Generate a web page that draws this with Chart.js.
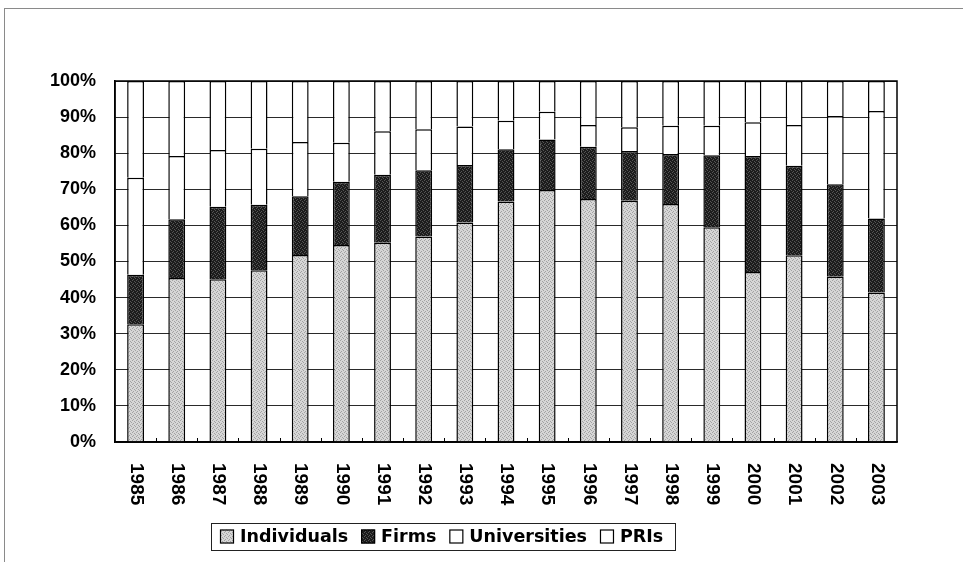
<!DOCTYPE html>
<html><head><meta charset="utf-8">
<script src="https://cdn.jsdelivr.net/npm/chart.js@4.4.0/dist/chart.umd.min.js"></script>
<style>
html,body{margin:0;padding:0;background:#fff;}
#wrap{position:relative;width:963px;height:562px;overflow:hidden;background:#fff;}
#frame{position:absolute;left:4px;top:8px;width:990px;height:600px;border-left:1px solid #8a8a8a;border-top:1px solid #8a8a8a;}
canvas{position:absolute;left:0;top:0;}
</style></head><body>
<div id="wrap"><div id="frame"></div><canvas id="c" width="963" height="562"></canvas></div>
<script>
const categories = ['1985','1986','1987','1988','1989','1990','1991','1992','1993','1994','1995','1996','1997','1998','1999','2000','2001','2002','2003'];
const seriesNames = ['Individuals','Firms','Universities','PRIs'];
const individuals  = [32.6,45.4,45.1,47.6,51.8,54.6,55.2,56.9,60.8,66.6,69.8,67.3,66.8,65.9,59.5,47.1,51.7,45.8,41.4];
const firms        = [13.7,16.3,20.1,18.1,16.3,17.5,18.8,18.4,15.9,14.5,14.0,14.5,13.8,13.9,19.9,32.1,24.8,25.6,20.5];
const universities = [26.9,17.5,15.7,15.5,15.0,10.8,12.1,11.3,10.7,7.9,7.7,6.0,6.6,7.8,8.2,9.4,11.3,18.9,29.8];
const pris         = [26.8,20.8,19.1,18.8,16.9,17.1,13.9,13.4,12.6,11.0,8.5,12.2,12.8,12.4,12.4,11.4,12.2,9.7,8.3];
const yMax = 100, yStep = 10;

function makePattern(base, dot){
  const p = document.createElement('canvas'); p.width = 4; p.height = 4;
  const g = p.getContext('2d');
  g.fillStyle = base; g.fillRect(0,0,4,4);
  g.fillStyle = dot;
  [[0,0],[2,1],[1,3],[3,2]].forEach(([a,b])=>g.fillRect(a,b,1,1));
  return document.getElementById('c').getContext('2d').createPattern(p,'repeat');
}
const fills = [makePattern('#d6d6d6','#a2a2a2'), makePattern('#1c1c1c','#555555'), '#ffffff', '#ffffff'];
const seriesData = [individuals, firms, universities, pris];

const decor = {
  id:'decor',
  afterDatasetsDraw(chart){
    const ctx = chart.ctx, a = chart.chartArea, xs = chart.scales.x;
    ctx.save();
    ctx.strokeStyle = '#000'; ctx.lineWidth = 1.5;
    ctx.strokeRect(a.left, a.top, a.right-a.left, a.bottom-a.top);
    const n = categories.length, step = (a.right-a.left)/n;
    ctx.lineWidth = 1;
    for(let i=1;i<n;i++){
      const x = Math.round(xs.getPixelForValue(i) - step/2)+0.5;
      ctx.beginPath(); ctx.moveTo(x, a.bottom); ctx.lineTo(x, a.bottom-4); ctx.stroke();
    }
    ctx.restore();
  },
  afterDraw(chart){
    const ctx = chart.ctx, a = chart.chartArea, xs = chart.scales.x;
    ctx.save();
    ctx.fillStyle = '#000';
    ctx.font = 'bold 19px "Liberation Sans", Arial, sans-serif';
    ctx.textAlign = 'left'; ctx.textBaseline = 'middle';
    categories.forEach((c,i)=>{
      const x = xs.getPixelForValue(i);
      ctx.save(); ctx.translate(x+0.5, a.bottom+21); ctx.rotate(Math.PI/2);
      ctx.fillText(c, 0, 0); ctx.restore();
    });
    // legend
    ctx.font = 'bold 17.5px "DejaVu Sans", sans-serif';
    const bx = 211, by = 523, bh = 27, box = 14, gapT = 6, gapI = 13;
    let x = 220;
    const cy = by + bh/2;
    seriesNames.forEach((name,i)=>{
      ctx.fillStyle = fills[i];
      ctx.fillRect(x, cy-box/2, box, box);
      ctx.strokeStyle = '#000'; ctx.lineWidth = 1.2;
      ctx.strokeRect(x+0.5, cy-box/2+0.5, box-1, box-1);
      ctx.fillStyle = '#000';
      ctx.fillText(name, x+box+gapT, cy+1);
      x += box + gapT + ctx.measureText(name).width + gapI;
    });
    ctx.strokeStyle = '#222'; ctx.lineWidth = 1;
    ctx.strokeRect(bx+0.5, by+0.5, Math.max(464, (x - gapI + 8) - bx), bh);
    ctx.restore();
  }
};

new Chart(document.getElementById('c'), {
  type:'bar',
  data:{
    labels: categories,
    datasets: seriesNames.map((name,i)=>({
      label: name,
      data: seriesData[i],
      backgroundColor: fills[i],
      borderColor:'#000',
      borderWidth:1.5,
      barPercentage:0.41,
      categoryPercentage:1.0,
      stack:'s'
    }))
  },
  options:{
    responsive:false,
    animation:false,
    devicePixelRatio:1,
    layout:{padding:{left:0,right:66,top:81,bottom:0}},
    plugins:{legend:{display:false}, tooltip:{enabled:false}},
    scales:{
      x:{
        stacked:true,
        grid:{display:false, drawTicks:false},
        border:{display:true,color:'#000',width:1.5},
        ticks:{display:false},
        afterFit(s){ s.height = 120; }
      },
      y:{
        stacked:true, min:0, max:yMax,
        ticks:{stepSize:yStep, callback:v=>v+'%', color:'#000', padding:19,
          font:{family:'"Liberation Sans", Arial, sans-serif', size:18, weight:'bold'}},
        grid:{color:'#2a2a2a', lineWidth:1, drawTicks:false},
        border:{color:'#000', width:1.5},
        afterFit(s){ s.width = 115; }
      }
    }
  },
  plugins:[decor]
});
</script>
</body></html>
